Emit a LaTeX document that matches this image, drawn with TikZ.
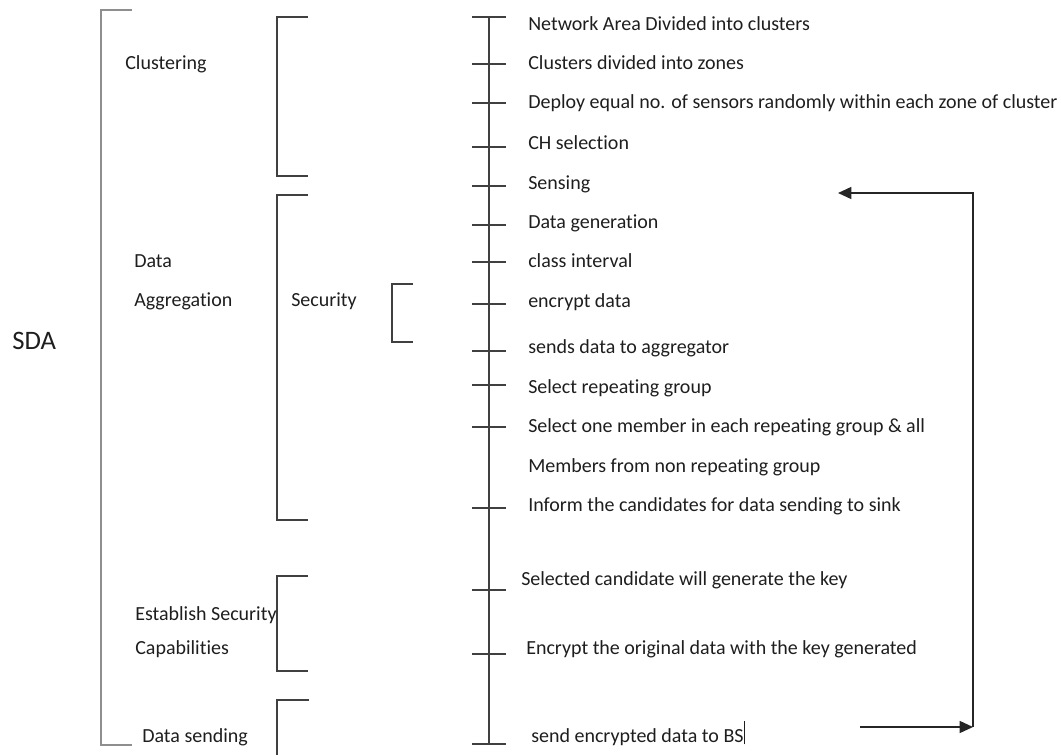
\documentclass[tikz,border=0pt]{standalone}
\usepackage{fontspec}
\setmainfont{Carlito}[RawFeature=-liga]
\usepackage{xcolor}
\usetikzlibrary{arrows.meta}
\definecolor{SDAText}{HTML}{1E1E1E}
\definecolor{SDALine}{HTML}{404040}
\definecolor{SDAMain}{HTML}{8E8E8E}

\tikzset{
  steptext/.style={anchor=base west,inner sep=0pt,text=SDAText,font=\fontsize{15}{18}\selectfont},
  grouptext/.style={steptext},
  brack/.style={draw=SDALine,line width=1pt},
  feedback/.style={draw=black!85,line width=1.1pt,-{Triangle[length=10pt,width=9pt]}}
}

\begin{document}
\begin{tikzpicture}[x=0.75pt,y=-0.75pt]
\path[use as bounding box] (0,0) rectangle (1061,754);
% outer bracket
\draw[SDAMain,line width=2pt] (132,10) -- (101,10) -- (101,745) -- (132,745);
\node[anchor=base west,inner sep=0pt,text=SDAText,font=\fontsize{20}{24}\selectfont] (sda) at (12,349) {SDA};
% phase brackets
\draw[brack] (308,17) -- (277,17) -- (277,176) -- (308,176);
\draw[brack] (308,195) -- (277,195) -- (277,520) -- (308,520);
\draw[brack] (413,284) -- (392,284) -- (392,342) -- (413,342);
\draw[brack] (308,576) -- (277,576) -- (277,671) -- (308,671);
\draw[brack] (309,700) -- (277,700) -- (277,758);
\node[grouptext] (clustering) at (125,69) {Clustering};
\node[grouptext] (data) at (134,267) {Data};
\node[grouptext] (aggregation) at (134,306) {Aggregation};
\node[grouptext] (security) at (291,306) {Security};
\node[grouptext] (establish) at (135,620) {Establish Security};
\node[grouptext] (capab) at (135,654) {Capabilities};
\node[grouptext] (sending) at (142,742) {Data sending};
% time line with ticks
\draw[SDALine,line width=1pt] (489,17) -- (489,744);
\foreach \ty in {17,64,103,147,186,225,262,304,351,385,427,508,590,654,744}
  \draw[SDALine,line width=1pt] (472,\ty) -- (506,\ty);
% steps
\node[steptext] (s1) at (528,30) {Network Area Divided into clusters};
\node[steptext] (s2) at (528,69) {Clusters divided into zones};
\node[steptext] (s3) at (528,108) {Deploy equal no. of sensors randomly within each zone of cluster};
\node[steptext] (s4) at (528,149) {CH selection};
\node[steptext] (s5) at (528,189) {Sensing};
\node[steptext] (s6) at (528,228) {Data generation};
\node[steptext] (s7) at (528,267) {class interval};
\node[steptext] (s8) at (528,307) {encrypt data};
\node[steptext] (s9) at (528,353) {sends data to aggregator};
\node[steptext] (s10) at (528,393) {Select repeating group};
\node[steptext] (s11) at (528,432) {Select one member in each repeating group \& all};
\node[steptext] (s12) at (528,472) {Members from non repeating group};
\node[steptext] (s13) at (528,511) {Inform the candidates for data sending  to sink};
\node[steptext] (s14) at (521,585) {Selected candidate will generate the key};
\node[steptext] (s15) at (526,654) {Encrypt the  original data with the key generated};
\node[steptext] (s16) at (531,742) {send encrypted data to BS\rule[-0.25ex]{0.9pt}{2.5ex}};
% feedback loop
\coordinate (sendFrom) at (860,727);
\coordinate (loopLow) at (973,727);
\coordinate (loopHigh) at (973,193);
\coordinate (senseTip) at (838,193);
\draw[feedback] (sendFrom) -- (loopLow);
\draw[feedback] (loopLow) -- (loopHigh) -- (senseTip);
\end{tikzpicture}
\end{document}
